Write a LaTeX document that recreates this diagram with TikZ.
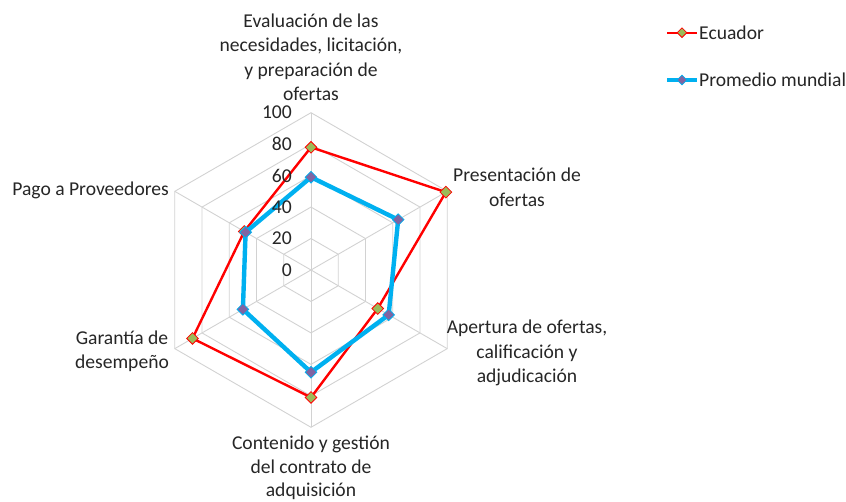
\documentclass[tikz,border=0pt]{standalone}
\usepackage{fontspec}
\setmainfont{Carlito}
\usetikzlibrary{shapes.geometric}
\definecolor{ecred}{RGB}{255,0,0}
\definecolor{ecgreen}{RGB}{155,187,89}
\definecolor{pmblue}{RGB}{0,176,240}
\definecolor{pmpurple}{RGB}{128,100,162}
\definecolor{gridgray}{RGB}{210,210,210}
\definecolor{labelgray}{RGB}{38,38,38}
\begin{document}
\begin{tikzpicture}[x=1pt,y=1pt]
	\tikzstyle{grid} = [draw=gridgray, line width=0.9pt]
	\tikzstyle{ecline} = [draw=ecred, line width=2.4pt, line join=round]
	\tikzstyle{pmline} = [draw=pmblue, line width=4.4pt, line join=round]
	\tikzstyle{ecmark} = [diamond, draw=ecred, fill=ecgreen, line width=0.8pt, inner sep=0, minimum size=12pt]
	\tikzstyle{pmmark} = [diamond, draw=pmblue, fill=pmpurple, line width=0.8pt, inner sep=0, minimum size=12pt]
	\tikzstyle{lbl} = [align=center, text=labelgray, font=\fontsize{19.6}{24.5}\selectfont]
	\useasboundingbox (0,0) rectangle (846,502);
	\def\sc{1.573}
	\coordinate (c) at (311,232);
	\begin{scope}[shift={(c)}]
		% rejilla
		\foreach \r in {20,40,...,100}
			\draw [grid] (90:\r*\sc) -- (30:\r*\sc) -- (-30:\r*\sc) -- (-90:\r*\sc) -- (-150:\r*\sc) -- (150:\r*\sc) -- cycle;
		\foreach \a in {90,30,-30,-90,-150,150}
			\draw [grid] (0,0) -- (\a:100*\sc);
		% Ecuador
		\foreach \v [count=\i] in {78,99,49,81,87,49}
			\coordinate (e\i) at ({90-60*(\i-1)}:{\v*\sc});
		\draw [ecline] (e1) -- (e2) -- (e3) -- (e4) -- (e5) -- (e6) -- cycle;
		\foreach \i in {1,...,6}
			\node [ecmark] (em\i) at (e\i) {};
		% Promedio mundial
		\foreach \v [count=\i] in {59,64,57,65,50,48}
			\coordinate (p\i) at ({90-60*(\i-1)}:{\v*\sc});
		\draw [pmline] (p1) -- (p2) -- (p3) -- (p4) -- (p5) -- (p6) -- cycle;
		\foreach \i in {1,...,6}
			\node [pmmark] (pm\i) at (p\i) {};
	\end{scope}
	% escala
	\foreach \v in {0,20,...,100}
		\node [lbl, anchor=east, inner sep=0] (t\v) at (292,232+\v*\sc) {\v};
	% ejes
	\node [lbl] (ax1) at (311,444.5) {Evaluación de las\\necesidades, licitación,\\y preparación de\\ofertas};
	\node [lbl] (ax2) at (517,314.5) {Presentación de\\ofertas};
	\node [lbl] (ax3) at (527,149) {Apertura de ofertas,\\calificación y\\adjudicación};
	\node [lbl, font=\fontsize{19.6}{23.5}\selectfont] (ax4) at (311,34) {Contenido y gestión\\del contrato de\\adquisición};
	\node [lbl] (ax5) at (122,150.5) {Garantía de\\desempeño};
	\node [lbl, anchor=east, inner sep=0] (ax6) at (169,312) {Pago a Proveedores};
	% leyenda
	\coordinate (le1) at (667,469.3);
	\coordinate (le2) at (697,469.3);
	\draw [ecline, line width=2.2pt] (le1) -- (le2);
	\node [ecmark, minimum size=10pt] (lem) at (682,469.3) {};
	\node [lbl, anchor=west, inner sep=0] (lec) at (699,469.3) {Ecuador};
	\coordinate (lp1) at (667,422);
	\coordinate (lp2) at (697,422);
	\draw [pmline, line width=3.6pt] (lp1) -- (lp2);
	\node [pmmark, minimum size=10pt] (lpm) at (682,422) {};
	\node [lbl, anchor=west, inner sep=0] (lpr) at (699,422) {Promedio mundial};
\end{tikzpicture}
\end{document}
